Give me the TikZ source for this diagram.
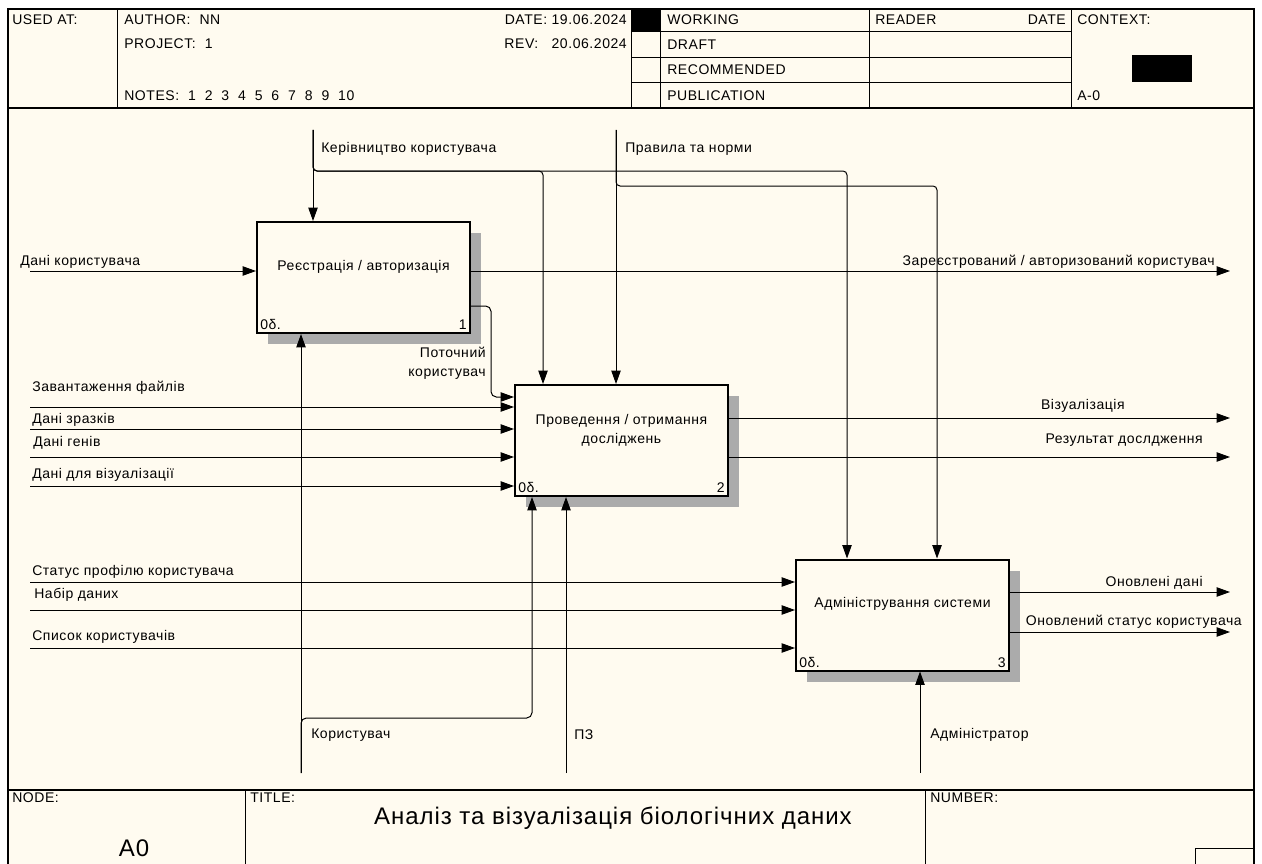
\documentclass[tikz,border=0pt]{standalone}
\usepackage{fontspec}
\setmainfont{Liberation Sans}[LetterSpace=4]
\usetikzlibrary{arrows.meta,shadows,positioning}
\definecolor{paper}{RGB}{255,251,240}

\begin{document}
\begin{tikzpicture}[x=0.75pt, y=-0.75pt, >={Triangle[length=10pt,width=7pt]},
  font=\fontsize{10.5}{12}\selectfont,
  box/.style={draw, line width=1.5pt, fill=paper, minimum width=159.75pt, minimum height=83.25pt, inner sep=0pt,
    drop shadow={shadow xshift=8.25pt, shadow yshift=-8.25pt, fill=black!33, opacity=1}},
  arr/.style={->, line width=0.75pt},
  lbl/.style={inner sep=0pt, anchor=west},
  lblr/.style={inner sep=0pt, anchor=east},
  corner/.style={inner sep=3pt}]
\useasboundingbox (0,0) rectangle (1262,863);
\clip (0,0) rectangle (1262,863);
\fill[white] (0,0) rectangle (1262,863);
\draw[line width=1.5pt, fill=paper] (8,9) rectangle (1254,875);

\draw[line width=1.5pt] (8,108) -- (1254,108);
\draw[line width=0.75pt] (117,9) -- (117,108);
\draw[line width=0.75pt] (631,9) -- (631,108);
\draw[line width=0.75pt] (660,9) -- (660,108);
\draw[line width=0.75pt] (869,9) -- (869,108);
\draw[line width=0.75pt] (1071,9) -- (1071,108);
\draw[line width=0.75pt] (631,32) -- (1071,32);
\draw[line width=0.75pt] (631,58) -- (1071,58);
\draw[line width=0.75pt] (631,83) -- (1071,83);
\fill (631,9) rectangle (660,32);
\fill (1132,55) rectangle (1192,82);
\node[lbl] (usedat) at (12,20) {USED AT:};
\node[lbl] (author) at (124,20) {AUTHOR:\ \ NN};
\node[lbl] (project) at (124,44) {PROJECT:\ \ 1};
\node[lbl] (notes) at (124,96) {NOTES:\ \ 1\ \ 2\ \ 3\ \ 4\ \ 5\ \ 6\ \ 7\ \ 8\ \ 9\ \ 10};
\node[lblr] (date) at (627,20) {DATE:\ 19.06.2024};
\node[lblr] (rev) at (627,44) {REV:\ \ \ 20.06.2024};
\node[lbl] (working) at (667,20) {WORKING};
\node[lbl] (draft) at (667,45) {DRAFT};
\node[lbl] (recom) at (667,70) {RECOMMENDED};
\node[lbl] (public) at (667,96) {PUBLICATION};
\node[lbl] (reader) at (875,20) {READER};
\node[lblr] (rdate) at (1066,20) {DATE};
\node[lbl] (context) at (1077,20) {CONTEXT:};
\node[lbl] (azero) at (1077,96) {A-0};

\draw[line width=1.5pt] (8,790) -- (1254,790);
\draw[line width=0.75pt] (245,790) -- (245,875);
\draw[line width=0.75pt] (925,790) -- (925,875);
\draw[line width=0.75pt] (1195,848) rectangle (1254,875);
\node[lbl] (nodelbl) at (12,798) {NODE:};
\node[lbl] (titlelbl) at (250,798) {TITLE:};
\node[lbl] (numlbl) at (930,798) {NUMBER:};
\node[font=\fontsize{18}{21}\selectfont] (title) at (613,818) {Аналіз та візуалізація біологічних даних};
\node[font=\fontsize{18}{21}\selectfont] (nodeid) at (134,848) {A0};

\node[box] (b1) at (363.5,277.5) {};
\node[box] (b2) at (621.5,440.5) {};
\node[box] (b3) at (902.5,615) {};
\node (t1) at (363.5,267) {Реєстрація / авторизація};
\node[align=center, font=\fontsize{10.5}{14.25}\selectfont] (t2) at (621.5,430) {Проведення / отримання\\досліджень};
\node (t3) at (902.5,604) {Адміністрування системи};
\node[corner, anchor=south west] (d1) at (b1.south west) {0δ.};
\node[corner, anchor=south east] (n1) at (b1.south east) {1};
\node[corner, anchor=south west] (d2) at (b2.south west) {0δ.};
\node[corner, anchor=south east] (n2) at (b2.south east) {2};
\node[corner, anchor=south west] (d3) at (b3.south west) {0δ.};
\node[corner, anchor=south east] (n3) at (b3.south east) {3};

\coordinate (c1) at (313,130);
\coordinate (c2) at (616,130);
\coordinate (j1) at (543,171);
\coordinate (j2) at (847,171);
\coordinate (j3) at (937,186);
\draw[arr] (c1) -- (c1 |- b1.north);
\draw[arr, rounded corners=3pt] (c1) |- (j1) -- (j1 |- b2.north);
\draw[arr, rounded corners=3pt] (c1) |- (j2) -- (j2 |- b3.north);
\draw[arr] (c2) -- (c2 |- b2.north);
\draw[arr, rounded corners=3pt] (c2) |- (j3) -- (j3 |- b3.north);
\node[lbl] (ctl1) at (321,149) {Керівництво користувача};
\node[lbl] (ctl2) at (625,149) {Правила та норми};

\coordinate (i1) at (30,271);
\coordinate (o1) at (1230,271);
\draw[arr] (i1) -- (i1 -| b1.west);
\draw[arr] (o1 -| b1.east) -- (o1);
\node[lbl] (in1) at (20,262) {Дані користувача};
\node[lblr] (out1) at (1215,262) {Зареєстрований / авторизований користувач};

\coordinate (p1) at (491,306);
\coordinate (p2) at (491,397);
\draw[arr, rounded corners=4pt] (p1 -| b1.east) -- (p1) -- (p2) -- (p2 -| b2.west);
\node[lblr, align=right, font=\fontsize{10.5}{14.25}\selectfont] (cur) at (486,363) {Поточний\\користувач};

\coordinate (i2) at (30,407);
\coordinate (i3) at (30,429);
\coordinate (i4) at (30,457);
\coordinate (i5) at (30,486);
\draw[arr] (i2) -- (i2 -| b2.west);
\draw[arr] (i3) -- (i3 -| b2.west);
\draw[arr] (i4) -- (i4 -| b2.west);
\draw[arr] (i5) -- (i5 -| b2.west);
\node[lbl] (in2) at (32,388) {Завантаження файлів};
\node[lbl] (in3) at (32,420) {Дані зразків};
\node[lbl] (in4) at (33,443) {Дані генів};
\node[lbl] (in5) at (32,475) {Дані для візуалізації};

\coordinate (o2) at (1230,418);
\coordinate (o3) at (1230,457);
\draw[arr] (o2 -| b2.east) -- (o2);
\draw[arr] (o3 -| b2.east) -- (o3);
\node[lblr] (out2) at (1125,406) {Візуалізація};
\node[lblr] (out3) at (1203,440) {Результат дослдження};

\coordinate (i6) at (30,582);
\coordinate (i7) at (30,610);
\coordinate (i8) at (30,648);
\draw[arr] (i6) -- (i6 -| b3.west);
\draw[arr] (i7) -- (i7 -| b3.west);
\draw[arr] (i8) -- (i8 -| b3.west);
\node[lbl] (in6) at (32,572) {Статус профілю користувача};
\node[lbl] (in7) at (34,595) {Набір даних};
\node[lbl] (in8) at (32,637) {Список користувачів};

\coordinate (o4) at (1230,592);
\coordinate (o5) at (1230,632);
\draw[arr] (o4 -| b3.east) -- (o4);
\draw[arr] (o5 -| b3.east) -- (o5);
\node[lblr] (out4) at (1203,583) {Оновлені дані};
\node[lblr] (out5) at (1242,622) {Оновлений статус користувача};

\coordinate (m1) at (301,773);
\coordinate (m2) at (566,773);
\coordinate (m3) at (920,773);
\coordinate (j4) at (532,718);
\draw[arr] (m1) -- (m1 |- b1.south);
\draw[arr, rounded corners=4pt] (m1) |- (j4) -- (j4 |- b2.south);
\draw[arr] (m2) -- (m2 |- b2.south);
\draw[arr] (m3) -- (m3 |- b3.south);
\node[lbl] (mech1) at (311,735) {Користувач};
\node[lbl] (mech2) at (574,735) {ПЗ};
\node[lbl] (mech3) at (930,735) {Адміністратор};
\end{tikzpicture}
\end{document}
